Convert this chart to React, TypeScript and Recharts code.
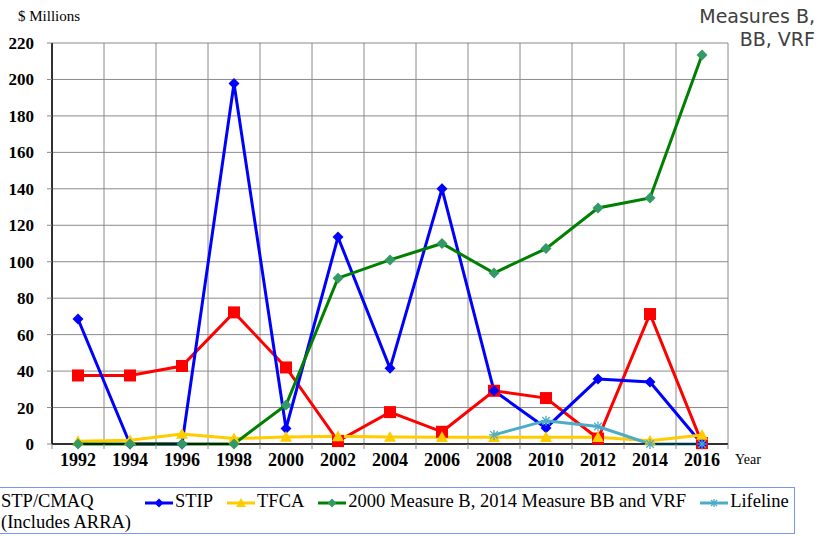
import { LineChart, Line, XAxis, YAxis, CartesianGrid } from 'recharts'

// years on the category axis
const years = [1992, 1994, 1996, 1998, 2000, 2002, 2004, 2006, 2008, 2010, 2012, 2014, 2016]

// $ millions per program
const stpCmaq = [37.6, 37.6, 42.8, 72.2, 42, 1.6, 17.5, 6.7, 29.2, 25.2, 3, 71.3, 0.5]
const stip = [68.6, 0, 0, 197.8, 8.5, 113.5, 41.5, 140, 29.2, 8.8, 35.6, 34, 0]
const tfca = [1.5, 2, 5.5, 3, 3.8, 4.2, 3.8, 3.7, 3.7, 3.7, 3.7, 1.8, 5]
const measures = [0, 0, 0, 0, 21.4, 91, 101, 110, 93.8, 107.2, 129.5, 135, 213.4]
const lifeline = [null, null, null, null, null, null, null, null, 5, 12.8, 9.6, 0, 0]

const yTicks = [0, 20, 40, 60, 80, 100, 120, 140, 160, 180, 200, 220]
// grid lines sit between the years
const yearBounds = [...years.map(y => y - 1), years[years.length - 1] + 1]

const data = years.map((year, i) => ({
  year,
  stpCmaq: stpCmaq[i],
  stip: stip[i],
  tfca: tfca[i],
  measures: measures[i],
  lifeline: lifeline[i],
}))

type Shape = 'square' | 'diamond' | 'triangle' | 'star'

const SERIES: { key: string; name: string; stroke: string; fill: string; shape: Shape; size: number }[] = [
  { key: 'stpCmaq', name: 'STP/CMAQ (Includes ARRA)', stroke: '#ff0000', fill: '#ff0000', shape: 'square', size: 6 },
  { key: 'stip', name: 'STIP', stroke: '#0000ff', fill: '#0000ff', shape: 'diamond', size: 5.5 },
  { key: 'tfca', name: 'TFCA', stroke: '#ffcc00', fill: '#ffcc00', shape: 'triangle', size: 6 },
  { key: 'measures', name: '2000 Measure B, 2014 Measure BB and VRF', stroke: '#008000', fill: '#339966', shape: 'diamond', size: 5.5 },
  { key: 'lifeline', name: 'Lifeline', stroke: '#4bacc6', fill: '#4bacc6', shape: 'star', size: 5 },
]

const SERIF = 'Liberation Serif, Times New Roman, serif'

function Marker({ shape, cx, cy, r, fill }: { shape: Shape; cx: number; cy: number; r: number; fill: string }) {
  if (shape === 'square') return <rect x={cx - r} y={cy - r} width={r * 2} height={r * 2} fill={fill} />
  if (shape === 'diamond')
    return <path d={`M${cx},${cy - r}L${cx + r},${cy}L${cx},${cy + r}L${cx - r},${cy}Z`} fill={fill} />
  if (shape === 'triangle')
    return <path d={`M${cx},${cy - r}L${cx + r},${cy + r * 0.8}L${cx - r},${cy + r * 0.8}Z`} fill={fill} />
  return (
    <g stroke={fill} strokeWidth={1.3}>
      <line x1={cx - r} y1={cy} x2={cx + r} y2={cy} />
      <line x1={cx} y1={cy - r} x2={cx} y2={cy + r} />
      <line x1={cx - r * 0.75} y1={cy - r * 0.75} x2={cx + r * 0.75} y2={cy + r * 0.75} />
      <line x1={cx - r * 0.75} y1={cy + r * 0.75} x2={cx + r * 0.75} y2={cy - r * 0.75} />
    </g>
  )
}

const makeDot = (shape: Shape, fill: string, r: number) => (props: any) => {
  const { cx, cy, index, value } = props
  if (value == null || !Number.isFinite(cx) || !Number.isFinite(cy)) return <g key={`d-${index}`} />
  return (
    <g key={`d-${index}`}>
      <Marker shape={shape} cx={cx} cy={cy} r={r} fill={fill} />
    </g>
  )
}

const tickText = { fontFamily: SERIF, fontWeight: 700 }

// serif bold tick labels
const YearTick = (props: any) => {
  const { x, y, payload } = props
  return (
    <text x={x} y={y + 16} textAnchor="middle" style={{ ...tickText, fontSize: 18 }} fill="#000">
      {payload.value}
    </text>
  )
}

const ValueTick = (props: any) => {
  const { x, y, payload } = props
  return (
    <text x={x} y={y + 6} textAnchor="end" style={{ ...tickText, fontSize: 17 }} fill="#000">
      {payload.value}
    </text>
  )
}

function LegendIcon({ s }: { s: (typeof SERIES)[number] }) {
  return (
    <svg width={28} height={14} style={{ flex: 'none', marginRight: 2 }}>
      <line x1={0} y1={7} x2={28} y2={7} stroke={s.stroke} strokeWidth={3} />
      <Marker shape={s.shape} cx={14} cy={7} r={s.size - 1} fill={s.fill} />
    </svg>
  )
}

export default function App() {
  return (
    <div style={{ position: 'absolute', left: 0, top: 0, width: 820, height: 536, overflow: 'hidden', background: '#fff', fontFamily: SERIF }}>
      <div style={{ position: 'absolute', left: 18, top: 8, fontSize: 15, color: '#000' }}>$ Millions</div>
      <div
        style={{
          position: 'absolute',
          right: 5,
          top: 5,
          textAlign: 'right',
          fontFamily: 'DejaVu Sans, sans-serif',
          fontSize: 19,
          lineHeight: '23px',
          color: '#404040',
        }}
      >
        Measures B,
        <br />
        BB, VRF
      </div>
      <div style={{ position: 'absolute', left: 735, top: 452, fontSize: 14 }}>Year</div>

      <LineChart width={820} height={482} data={data} margin={{ top: 43, right: 92, left: 0, bottom: 2 }} style={{ fontFamily: SERIF }}>
        <CartesianGrid stroke="#8a8a8a" strokeWidth={1} />
        <XAxis
          dataKey="year"
          type="number"
          domain={[yearBounds[0], yearBounds[yearBounds.length - 1]]}
          ticks={yearBounds}
          tickFormatter={() => ''}
          axisLine={{ stroke: '#000', strokeWidth: 1.5 }}
          tickLine={{ stroke: '#888' }}
          tickSize={5}
          height={6}
          interval={0}
        />
        <XAxis
          xAxisId="labels"
          dataKey="year"
          type="number"
          domain={[yearBounds[0], yearBounds[yearBounds.length - 1]]}
          ticks={years}
          axisLine={false}
          tickLine={false}
          tickSize={0}
          tickMargin={0}
          height={30}
          interval={0}
          tick={YearTick}
        />
        <YAxis
          domain={[0, 220]}
          ticks={yTicks}
          width={52}
          interval={0}
          axisLine={{ stroke: '#000', strokeWidth: 1.5 }}
          tickLine={{ stroke: '#888' }}
          tickSize={5}
          tickMargin={13}
          tick={ValueTick}
        />
        {SERIES.map(s => (
          <Line
            key={s.key}
            dataKey={s.key}
            name={s.name}
            type="linear"
            stroke={s.stroke}
            strokeWidth={3}
            dot={makeDot(s.shape, s.fill, s.size)}
            activeDot={false}
            connectNulls={false}
            isAnimationActive={false}
          />
        ))}
      </LineChart>

      <div
        style={{
          position: 'absolute',
          left: -34,
          top: 487,
          width: 829,
          height: 47,
          boxSizing: 'border-box',
          border: '1px solid #7b98ee',
          padding: '3px 0 0 4px',
          display: 'flex',
          alignItems: 'flex-start',
          fontSize: 18.5,
          lineHeight: '21px',
        }}
      >
        {SERIES.map((s, i) => (
          <div key={s.key} style={{ display: 'flex', alignItems: 'flex-start', marginRight: i === 0 ? 4 : 14 }}>
            <div style={{ marginTop: 3 }}>
              <LegendIcon s={s} />
            </div>
            <span style={{ width: i === 0 ? 140 : undefined, whiteSpace: i === 0 ? 'normal' : 'nowrap' }}>
              {i === 0 ? (
                <>
                  STP/CMAQ
                  <br />
                  (Includes ARRA)
                </>
              ) : (
                s.name
              )}
            </span>
          </div>
        ))}
      </div>
    </div>
  )
}
